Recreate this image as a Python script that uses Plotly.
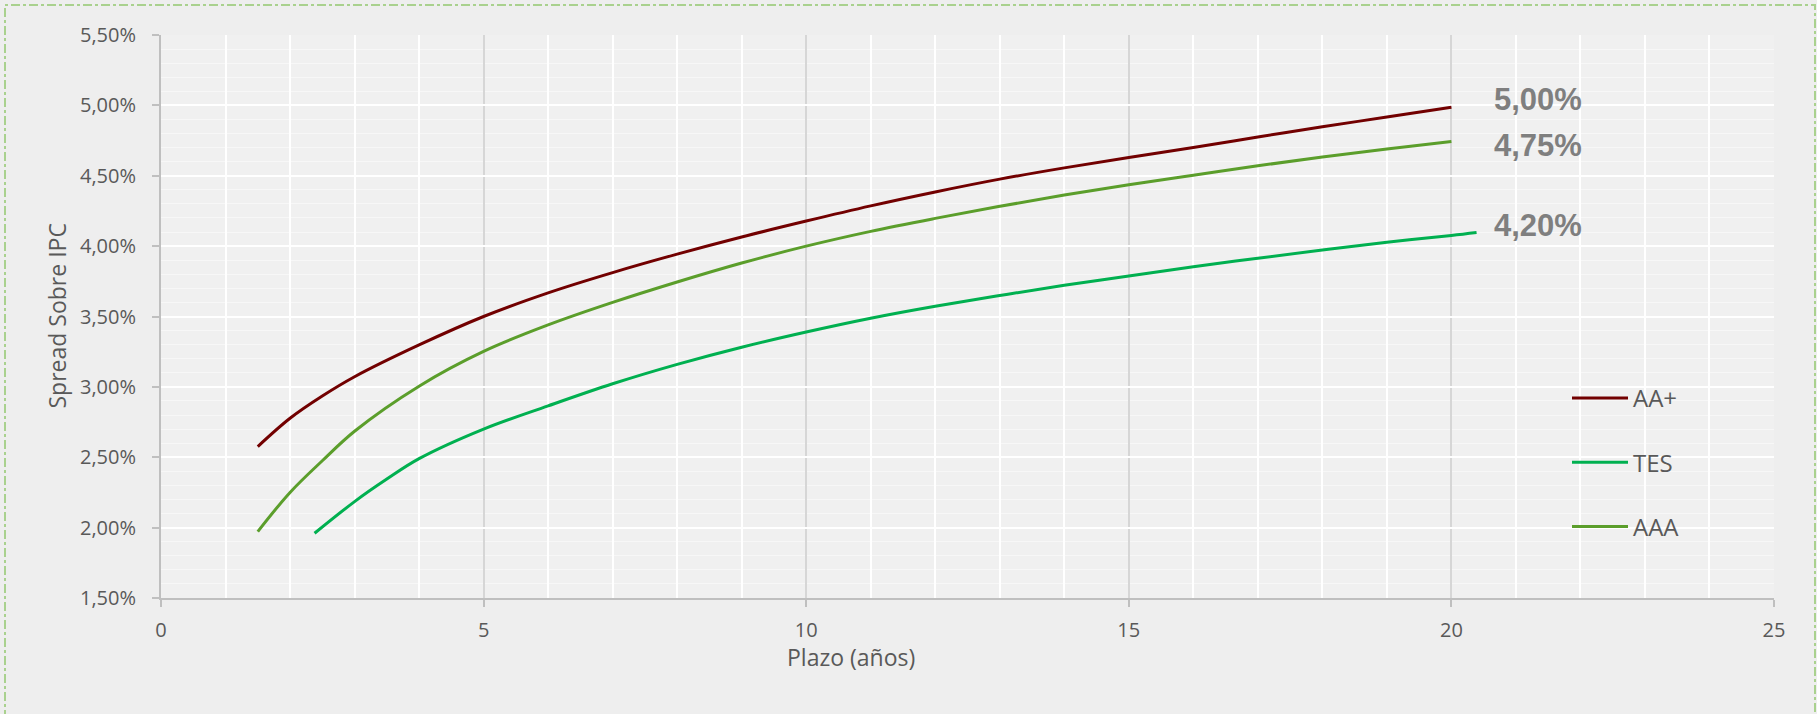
import plotly.graph_objects as go

# ---- data ----
series_names = ["AA+", "TES", "AAA"]
series_colors = ["#720000", "#00b050", "#5b9e2b"]

aa_x = [1.5, 2, 2.5, 3, 4, 5, 6, 7, 8, 9, 10, 11, 12, 13, 14, 15, 16, 17, 18, 19, 20]
aa_y = [2.576, 2.777, 2.935, 3.072, 3.298, 3.500, 3.668, 3.812, 3.943, 4.065, 4.178,
        4.286, 4.385, 4.476, 4.556, 4.630, 4.701, 4.775, 4.848, 4.917, 4.986]

tes_x = [2.38, 3, 3.5, 4, 5, 6, 7, 8, 9, 10, 11, 12, 13, 14, 15, 16, 17, 18, 19, 20, 20.39]
tes_y = [1.960, 2.185, 2.345, 2.490, 2.700, 2.865, 3.022, 3.160, 3.282, 3.390, 3.488,
         3.573, 3.649, 3.722, 3.788, 3.854, 3.914, 3.973, 4.028, 4.075, 4.096]

aaa_x = [1.5, 2, 2.5, 3, 4, 5, 6, 7, 8, 9, 10, 11, 12, 13, 14, 15, 16, 17, 18, 19, 20]
aaa_y = [1.972, 2.250, 2.475, 2.685, 3.005, 3.252, 3.440, 3.600, 3.745, 3.880, 4.000,
         4.105, 4.197, 4.283, 4.363, 4.436, 4.504, 4.571, 4.633, 4.690, 4.744]

end_labels = ["5,00%", "4,75%", "4,20%"]
end_label_x = [20.63, 20.63, 20.63]
end_label_y = [5.04, 4.715, 4.145]

x_title = "Plazo (años)"
y_title = "Spread Sobre IPC"

# ---- figure ----
W, H = 1817, 714
ml, mr, mt, mb = 161, 43, 35, 116
pw, ph = W - ml - mr, H - mt - mb

fig = go.Figure()
xs = [aa_x, tes_x, aaa_x]
ys = [aa_y, tes_y, aaa_y]
for i, name in enumerate(series_names):
    fig.add_trace(go.Scatter(
        x=xs[i], y=ys[i], mode="lines", name=name,
        line=dict(color=series_colors[i], width=3, shape="spline", smoothing=1.0),
        legendgroup=name, hoverinfo="skip",
    ))

label_font = dict(family="Liberation Sans, Arial, sans-serif", size=31, color="#7f7f7f")
for t, lx, ly in zip(end_labels, end_label_x, end_label_y):
    fig.add_annotation(x=lx, y=ly, xref="x", yref="y", text="<b>%s</b>" % t,
                       showarrow=False, xanchor="left", yanchor="middle", font=label_font)

axis_font = dict(family="Open Sans, sans-serif", size=20, color="#595959")
title_font = dict(family="Open Sans, sans-serif", size=23, color="#595959")
fig.add_annotation(x=(851 - ml) / pw, y=(mt + ph - 657) / ph, xref="paper", yref="paper",
                   text=x_title, showarrow=False, xanchor="center", yanchor="middle",
                   font=title_font)
fig.add_annotation(x=(56 - ml) / pw, y=0.5, xref="paper", yref="paper",
                   text=y_title, showarrow=False, textangle=-90,
                   xanchor="center", yanchor="middle", font=title_font)

# outer dash-dot border
fig.add_shape(type="rect", xref="paper", yref="paper",
              x0=(5 - ml) / pw, x1=(1815 - ml) / pw,
              y0=(mt + ph - 720) / ph, y1=(mt + ph - 5) / ph,
              line=dict(color="#a9d18e", width=2, dash="dashdot"), layer="below")

fig.update_layout(
    width=W, height=H,
    margin=dict(l=ml, r=mr, t=mt, b=mb),
    paper_bgcolor="#eeeeee",
    plot_bgcolor="#f0f0f0",
    separators=",.",
    showlegend=True,
    legend=dict(
        x=(1567 - ml) / pw, y=(mt + ph - 376) / ph, xanchor="left", yanchor="top",
        bgcolor="rgba(0,0,0,0)", font=dict(family="Open Sans, sans-serif", size=24, color="#595959"),
        tracegroupgap=30, itemwidth=56, traceorder="grouped",
    ),
    xaxis=dict(
        range=[0, 25], dtick=5, tick0=0,
        showgrid=True, gridcolor="#d6d6d6", gridwidth=1.5,
        minor=dict(dtick=1, showgrid=True, gridcolor="#ffffff", gridwidth=2),
        showline=True, linecolor="#bfbfbf", linewidth=2,
        ticks="outside", ticklen=7, tickcolor="#bfbfbf", tickwidth=2,
        tickfont=axis_font, ticklabelstandoff=6,
        zeroline=False, fixedrange=True,
    ),
    yaxis=dict(
        range=[1.5, 5.5], dtick=0.5, tick0=1.5,
        tickformat=".2f", ticksuffix="%",
        showgrid=True, gridcolor="#ffffff", gridwidth=2,
        minor=dict(dtick=0.1, showgrid=True, gridcolor="rgba(255,255,255,0.45)", gridwidth=1),
        showline=True, linecolor="#bfbfbf", linewidth=2,
        ticks="outside", ticklen=7, tickcolor="#bfbfbf", tickwidth=2,
        tickfont=axis_font, ticklabelstandoff=12,
        zeroline=False, fixedrange=True,
    ),
)

fig.write_html("out.html", config={"displayModeBar": False},
               post_script="document.body.style.margin='0';document.body.style.overflow='hidden';")
